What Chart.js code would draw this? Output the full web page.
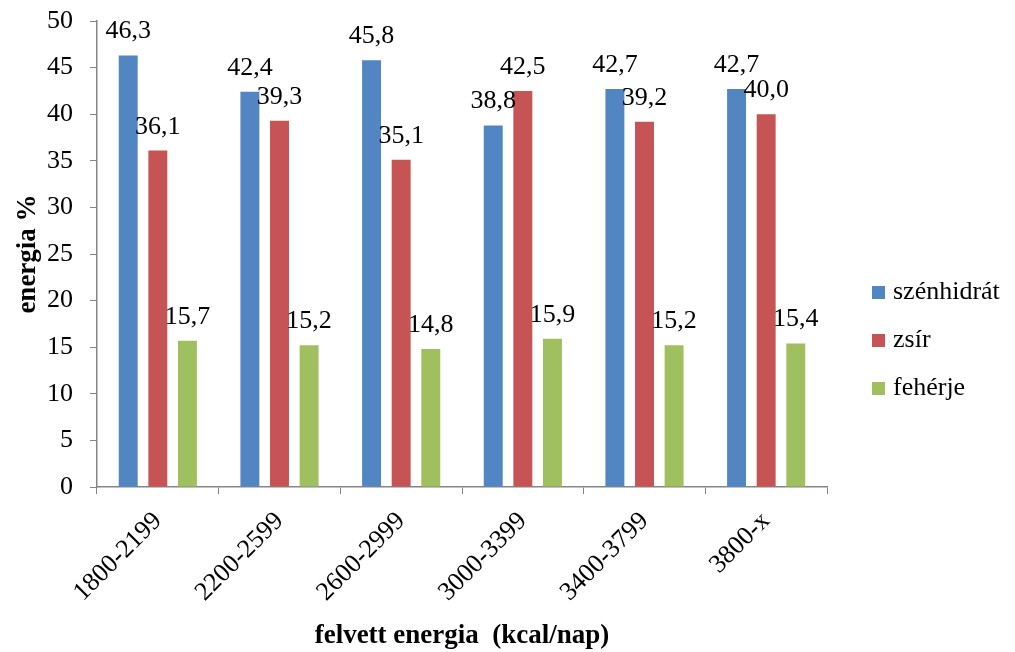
<!DOCTYPE html>
<html>
<head>
<meta charset="utf-8">
<script src="https://cdn.jsdelivr.net/npm/chart.js@4/dist/chart.umd.min.js"></script>
<style>
  html, body { margin: 0; padding: 0; background: #fff; }
  #wrap { width: 1015px; height: 652px; }
</style>
</head>
<body>
<div id="wrap"><canvas id="energyChart" width="1015" height="652"></canvas></div>
<script>
// Data
const categories = ["1800-2199", "2200-2599", "2600-2999", "3000-3399", "3400-3799", "3800-x"];
const seriesNames = ["szénhidrát", "zsír", "fehérje"];
const carbs = [46.3, 42.4, 45.8, 38.8, 42.7, 42.7];
const fat = [36.1, 39.3, 35.1, 42.5, 39.2, 40.0];
const protein = [15.7, 15.2, 14.8, 15.9, 15.2, 15.4];
const colors = ["#5186C3", "#C65455", "#A0BF5E"];

const serif = "'Liberation Serif', 'Times New Roman', serif";
const axisGray = "#868686";

// Value labels above each bar (Hungarian decimal comma)
const barLabels = {
    id: "barLabels",
    afterDatasetsDraw(chart) {
        let ctx = chart.ctx;
        ctx.save();
        ctx.font = "26px " + serif;
        ctx.fillStyle = "#000";
        ctx.textAlign = "center";
        ctx.textBaseline = "alphabetic";
        chart.data.datasets.forEach((ds, i) => {
            chart.getDatasetMeta(i).data.forEach((bar, j) => {
                let txt = ds.data[j].toFixed(1).replace(".", ",");
                ctx.fillText(txt, bar.x, bar.y - 17);
            });
        });
        ctx.restore();
    }
};

// Legend on the right, drawn by hand so it sits where the original has it
const sideLegend = {
    id: "sideLegend",
    afterDraw(chart) {
        let ctx = chart.ctx;
        ctx.save();
        ctx.font = "26px " + serif;
        ctx.textBaseline = "middle";
        chart.data.datasets.forEach((ds, i) => {
            let y = 292 + i * 48;
            ctx.fillStyle = ds.backgroundColor;
            ctx.fillRect(872, y - 6, 13, 13);
            ctx.fillStyle = "#000";
            ctx.fillText(ds.label, 893, y);
        });
        ctx.restore();
    }
};

let ctx = document.getElementById("energyChart").getContext("2d");
new Chart(ctx, {
    type: "bar",
    data: {
        labels: categories,
        datasets: [
            { label: seriesNames[0], data: carbs, backgroundColor: colors[0] },
            { label: seriesNames[1], data: fat, backgroundColor: colors[1] },
            { label: seriesNames[2], data: protein, backgroundColor: colors[2] }
        ]
    },
    options: {
        responsive: false,
        animation: false,
        categoryPercentage: 0.73,
        barPercentage: 0.64,
        layout: { padding: { left: 12, top: 21, right: 188, bottom: 0 } },
        plugins: {
            legend: { display: false },
            tooltip: { enabled: false }
        },
        scales: {
            x: {
                grid: {
                    offset: true,
                    drawOnChartArea: false,
                    drawTicks: true,
                    tickLength: 7,
                    color: axisGray
                },
                border: { display: true, color: axisGray, width: 1.5 },
                ticks: {
                    color: "#000",
                    font: { family: serif, size: 26 },
                    minRotation: 45,
                    maxRotation: 45,
                    padding: 12
                },
                title: {
                    display: true,
                    text: "felvett energia  (kcal/nap)",
                    color: "#000",
                    font: { family: serif, size: 27, weight: "bold" },
                    padding: { top: 4, bottom: 0 }
                },
                afterFit(scale) {
                    scale.height = 165;
                    scale.paddingLeft = 0;
                    scale.paddingRight = 0;
                }
            },
            y: {
                min: 0,
                max: 50,
                ticks: {
                    stepSize: 5,
                    color: "#000",
                    font: { family: serif, size: 26 },
                    padding: 17
                },
                grid: {
                    drawOnChartArea: false,
                    drawTicks: true,
                    tickLength: 7,
                    color: axisGray
                },
                border: { display: true, color: axisGray, width: 1.5 },
                title: {
                    display: true,
                    text: "energia %",
                    color: "#000",
                    font: { family: serif, size: 27, weight: "bold" },
                    padding: 0
                },
                afterFit(scale) {
                    scale.width = 85;
                    scale.paddingTop = 0;
                    scale.paddingBottom = 0;
                }
            }
        }
    },
    plugins: [barLabels, sideLegend]
});
</script>
</body>
</html>
